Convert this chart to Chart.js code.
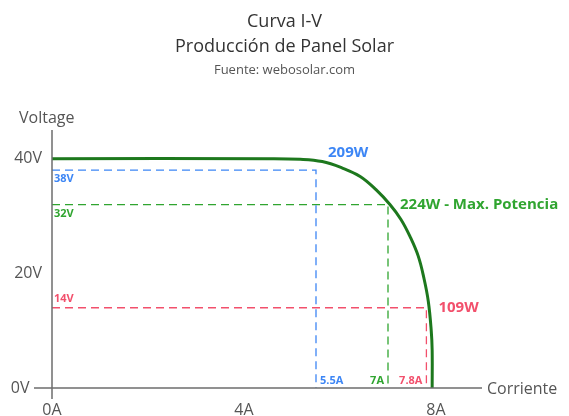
<!DOCTYPE html>
<html lang="es">
<head>
  <meta charset="UTF-8" />
  <title>Curva I-V</title>
  <script src="https://cdn.jsdelivr.net/npm/chart.js"></script>
  <style>
    body { margin: 0; background: #fff; }
    #wrap { width: 569px; height: 416px; }
  </style>
</head>
<body>
  <div id="wrap"><canvas id="ivChart"></canvas></div>
  <script>
    // curva I-V (corriente en A, voltaje en V)
    const currentA = [0, 4.5, 5.17, 5.63, 6.04, 6.42, 6.75, 7.04, 7.27, 7.46, 7.63, 7.75, 7.84, 7.9, 7.92, 7.92];
    const voltageV = [40, 40, 39.9, 39.5, 38.4, 36.9, 34.6, 32.0, 29.4, 26.4, 23.0, 19.1, 15.1, 10.1, 6.6, 0];

    // puntos marcados
    const markCurrent = [5.5, 7, 7.8];
    const markVoltage = [38, 32, 14];
    const markPower = [209, 224, 109];
    const markNote = ['', ' - Max. Potencia', ''];
    const markColors = ['#3d86f5', '#30a530', '#f2506c'];

    const xTicks = [0, 4, 8];
    const yTicks = [0, 20, 40];

    const titleLines = ['Curva I-V', 'Producción de Panel Solar'];
    const subTitle = 'Fuente: webosolar.com';

    const FONT = "'Open Sans', sans-serif";
    const AXIS = '#6e6e6e';

    const curve = currentA.map((a, i) => ({ x: a, y: voltageV[i] }));

    const guides = markCurrent.map((a, i) => ({
      data: [{ x: 0, y: markVoltage[i] }, { x: a, y: markVoltage[i] }, { x: a, y: 0 }],
      borderColor: markColors[i],
      borderWidth: 1.3,
      borderDash: [8, 5],
      pointRadius: 0,
      tension: 0
    }));

    const labelsPlugin = {
      id: 'ivLabels',
      afterDatasetsDraw(chart) {
        const { ctx, scales: { x, y }, chartArea } = chart;
        const cx = chart.width / 2;
        ctx.save();

        // titulos
        ctx.textAlign = 'center';
        ctx.textBaseline = 'middle';
        ctx.fillStyle = '#333';
        ctx.font = '18px ' + FONT;
        ctx.fillText(titleLines[0], cx, 22);
        ctx.fillText(titleLines[1], cx, 47);
        ctx.fillStyle = '#555';
        ctx.font = '13px ' + FONT;
        ctx.fillText(subTitle, cx, 70);

        // ejes
        ctx.strokeStyle = AXIS;
        ctx.lineWidth = 1.5;
        ctx.beginPath();
        ctx.moveTo(chartArea.left, chartArea.top);
        ctx.lineTo(chartArea.left, chartArea.bottom + 11);
        ctx.moveTo(chartArea.left - 18, chartArea.bottom);
        ctx.lineTo(chartArea.right - 2, chartArea.bottom);
        ctx.stroke();

        ctx.fillStyle = '#555';
        ctx.font = '16px ' + FONT;
        ctx.textAlign = 'left';
        ctx.fillText('Voltage', 19, chartArea.top - 12);
        ctx.fillText('Corriente', chartArea.right + 3, chartArea.bottom + 1);

        markCurrent.forEach((a, i) => {
          const px = x.getPixelForValue(a);
          const py = y.getPixelForValue(markVoltage[i]);
          const y0 = y.getPixelForValue(0);
          ctx.fillStyle = markColors[i];
          ctx.font = 'bold 11px ' + FONT;
          ctx.textAlign = 'left';
          // voltaje junto al eje
          const vy = i === 2 ? py - 9 : py + 9;
          ctx.fillText(markVoltage[i] + 'V', chartArea.left + 2, vy);
          // corriente sobre el eje x
          if (i === 0) {
            ctx.fillText(a + 'A', px + 4, y0 - 7);
          } else {
            ctx.textAlign = 'right';
            ctx.fillText(a + 'A', px - 4, y0 - 7);
          }
          // potencia
          ctx.font = 'bold 15px ' + FONT;
          ctx.textAlign = 'left';
          const ty = i === 0 ? py - 17 : py;
          ctx.fillText(markPower[i] + 'W' + markNote[i], px + 12, ty);
        });
        ctx.restore();
      }
    };

    new Chart(document.getElementById('ivChart'), {
      type: 'line',
      data: {
        datasets: [...guides, {
          data: curve,
          borderColor: '#1d781d',
          borderWidth: 3,
          pointRadius: 0,
          tension: 0.4
        }]
      },
      options: {
        responsive: true,
        maintainAspectRatio: false,
        animation: false,
        layout: { padding: { left: 0, right: 85, top: 130, bottom: 0 } },
        plugins: {
          legend: { display: false },
          tooltip: { enabled: false },
          title: { display: false }
        },
        scales: {
          x: {
            type: 'linear',
            min: 0,
            max: 9,
            afterBuildTicks: s => { s.ticks = xTicks.map(v => ({ value: v })); },
            afterFit: s => { s.height = 28; },
            grid: { display: false, drawTicks: false },
            border: { display: false },
            ticks: { padding: 13, color: '#555', font: { family: FONT, size: 16 }, callback: v => v + 'A' }
          },
          y: {
            min: 0,
            max: 45,
            afterBuildTicks: s => { s.ticks = yTicks.map(v => ({ value: v })); },
            afterFit: s => { s.width = 52; },
            grid: { display: false, drawTicks: false },
            border: { display: false },
            // el 0V queda a la izquierda de la prolongacion del eje x
            ticks: { padding: 10, color: '#555', font: { family: FONT, size: 16 }, callback: v => v === 0 ? '0V   ' : v + 'V' }
          }
        }
      },
      plugins: [labelsPlugin]
    });
  </script>
</body>
</html>
